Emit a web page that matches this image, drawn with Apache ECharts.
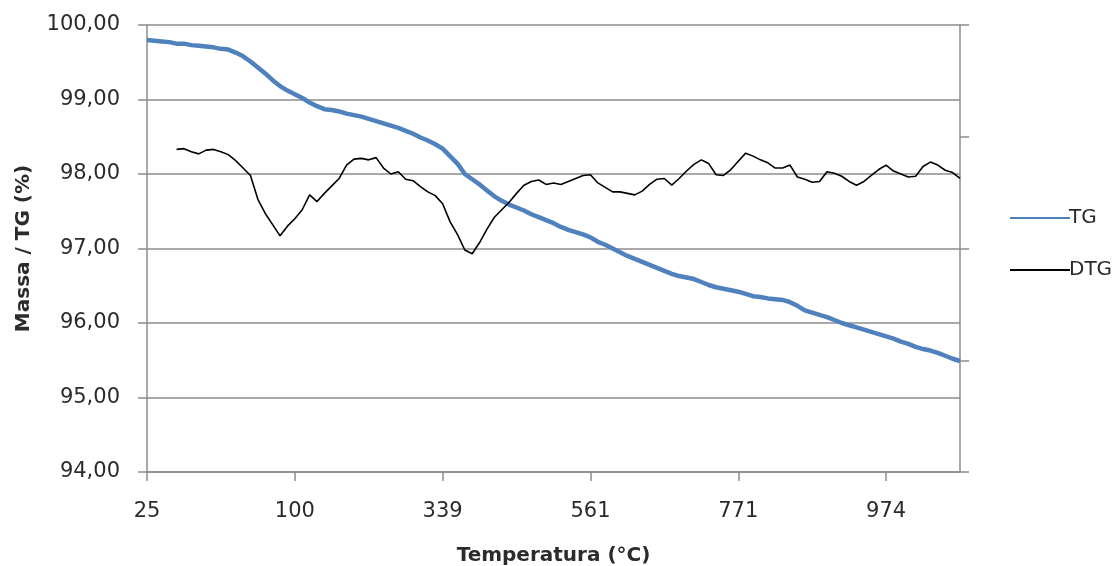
<!DOCTYPE html>
<html>
<head>
<meta charset="utf-8">
<script src="https://cdn.jsdelivr.net/npm/echarts@6/dist/echarts.min.js"></script>
<style>
  html, body { margin: 0; padding: 0; background: #fff; }
  #chart { width: 1119px; height: 566px; }
</style>
</head>
<body>
<div id="chart"></div>
<script>
// tick labels shown every 20 samples along the temperature axis
var tickLabels = ['25', '100', '339', '561', '771', '974'];
var samplesPerLabel = 20;

// TG mass curve (%)
var tg = [
  99.80, 99.79, 99.78, 99.77, 99.75, 99.75, 99.73, 99.72, 99.71, 99.70,
  99.68, 99.67, 99.63, 99.58, 99.51, 99.43, 99.35, 99.26, 99.18, 99.12,
  99.07, 99.02, 98.96, 98.91, 98.87, 98.86, 98.84, 98.81, 98.79, 98.77,
  98.74, 98.71, 98.68, 98.65, 98.62, 98.58, 98.54, 98.49, 98.45, 98.40,
  98.34, 98.24, 98.14, 98.00, 97.93, 97.86, 97.78, 97.70, 97.64, 97.59,
  97.55, 97.51, 97.46, 97.42, 97.38, 97.34, 97.29, 97.25, 97.22, 97.19,
  97.15, 97.09, 97.05, 97.00, 96.95, 96.90, 96.86, 96.82, 96.78, 96.74,
  96.70, 96.66, 96.63, 96.61, 96.59, 96.55, 96.51, 96.48, 96.46, 96.44,
  96.42, 96.39, 96.36, 96.35, 96.33, 96.32, 96.31, 96.28, 96.23, 96.17,
  96.14, 96.11, 96.08, 96.04, 96.00, 95.97, 95.94, 95.91, 95.88, 95.85,
  95.82, 95.79, 95.75, 95.72, 95.68, 95.65, 95.63, 95.60, 95.56, 95.52,
  95.49
];

// DTG curve (drawn on the secondary axis, same scale)
var dtg = [
  null, null, null, null, 98.33, 98.34, 98.30, 98.27, 98.32, 98.33,
  98.30, 98.26, 98.18, 98.08, 97.98, 97.66, 97.47, 97.32, 97.17, 97.30,
  97.40, 97.52, 97.72, 97.63, 97.74, 97.84, 97.94, 98.12, 98.20, 98.21,
  98.19, 98.22, 98.08, 98.00, 98.03, 97.93, 97.91, 97.83, 97.76, 97.71,
  97.60, 97.36, 97.19, 96.98, 96.93, 97.08, 97.26, 97.42, 97.52, 97.62,
  97.74, 97.85, 97.90, 97.92, 97.86, 97.88, 97.86, 97.90, 97.94, 97.98,
  97.99, 97.88, 97.82, 97.76, 97.76, 97.74, 97.72, 97.77, 97.86, 97.93,
  97.94, 97.85, 97.94, 98.04, 98.13, 98.19, 98.14, 97.99, 97.98, 98.06,
  98.17, 98.28, 98.24, 98.19, 98.15, 98.08, 98.08, 98.12, 97.96, 97.93,
  97.89, 97.90, 98.03, 98.01, 97.97, 97.90, 97.85, 97.90, 97.98, 98.06,
  98.12, 98.04, 98.00, 97.96, 97.97, 98.10, 98.16, 98.12, 98.05, 98.02,
  97.94
];

var samples = tg.map(function (v, i) { return String(i); });

var gridGray = '#8c8c8c';
var textColor = '#2b2b2b';
var font = 'DejaVu Sans';

var chart = echarts.init(document.getElementById('chart'));
var option = {
  animation: false,
  backgroundColor: '#fff',
  textStyle: { fontFamily: font },
  grid: { left: 147, right: 159, top: 25, bottom: 94, outerBoundsMode: 'none' },
  legend: {
    orient: 'vertical',
    left: 1004,
    top: 203,
    itemWidth: 60,
    itemHeight: 14,
    itemGap: 32,
    itemStyle: { opacity: 0 },
    textStyle: { fontFamily: font, fontSize: 20, color: textColor, padding: [0, 0, 0, -6] },
    data: ['TG', 'DTG']
  },
  xAxis: {
    type: 'category',
    data: samples,
    boundaryGap: false,
    name: 'Temperatura (°C)',
    nameLocation: 'middle',
    nameGap: 74,
    nameTextStyle: { fontFamily: font, fontSize: 20, fontWeight: 'bold', color: textColor },
    axisLine: { lineStyle: { color: gridGray, width: 1.5 } },
    axisTick: { show: true, length: 9, interval: samplesPerLabel - 1, lineStyle: { color: gridGray, width: 1.5 } },
    axisLabel: {
      interval: samplesPerLabel - 1,
      margin: 29,
      fontSize: 21,
      color: textColor,
      formatter: function (v, idx) {
        var k = idx / samplesPerLabel;
        return tickLabels[k] !== undefined ? tickLabels[k] : '';
      }
    },
    splitLine: { show: false }
  },
  yAxis: [
    {
      type: 'value',
      min: 94,
      max: 100,
      interval: 1,
      name: 'Massa / TG (%)',
      nameLocation: 'middle',
      nameGap: 113,
      nameTextStyle: { fontFamily: font, fontSize: 20, fontWeight: 'bold', color: textColor },
      axisLine: { show: true, lineStyle: { color: gridGray, width: 1.5 } },
      axisTick: { show: true, length: 9, lineStyle: { color: gridGray, width: 1.5 } },
      axisLabel: {
        margin: 27,
        fontSize: 21,
        color: textColor,
        formatter: function (v) { return v.toFixed(2).replace('.', ','); }
      },
      splitLine: { show: true, lineStyle: { color: gridGray, width: 1.5 } }
    },
    {
      type: 'value',
      position: 'right',
      min: 94,
      max: 100,
      interval: 1.5,
      axisLine: { show: true, lineStyle: { color: gridGray, width: 1.5 } },
      axisTick: { show: true, length: 9, lineStyle: { color: gridGray, width: 1.5 } },
      axisLabel: { show: false },
      splitLine: { show: false }
    }
  ],
  series: [
    {
      name: 'TG',
      type: 'line',
      data: tg,
      yAxisIndex: 0,
      symbol: 'none',
      lineStyle: { color: '#4f81bd', width: 4.5 },
      itemStyle: { color: '#4f81bd' },
      z: 2
    },
    {
      name: 'DTG',
      type: 'line',
      data: dtg,
      yAxisIndex: 1,
      symbol: 'none',
      lineStyle: { color: '#000', width: 1.6 },
      itemStyle: { color: '#000' },
      z: 3
    }
  ]
};
chart.setOption(option);
</script>
</body>
</html>
